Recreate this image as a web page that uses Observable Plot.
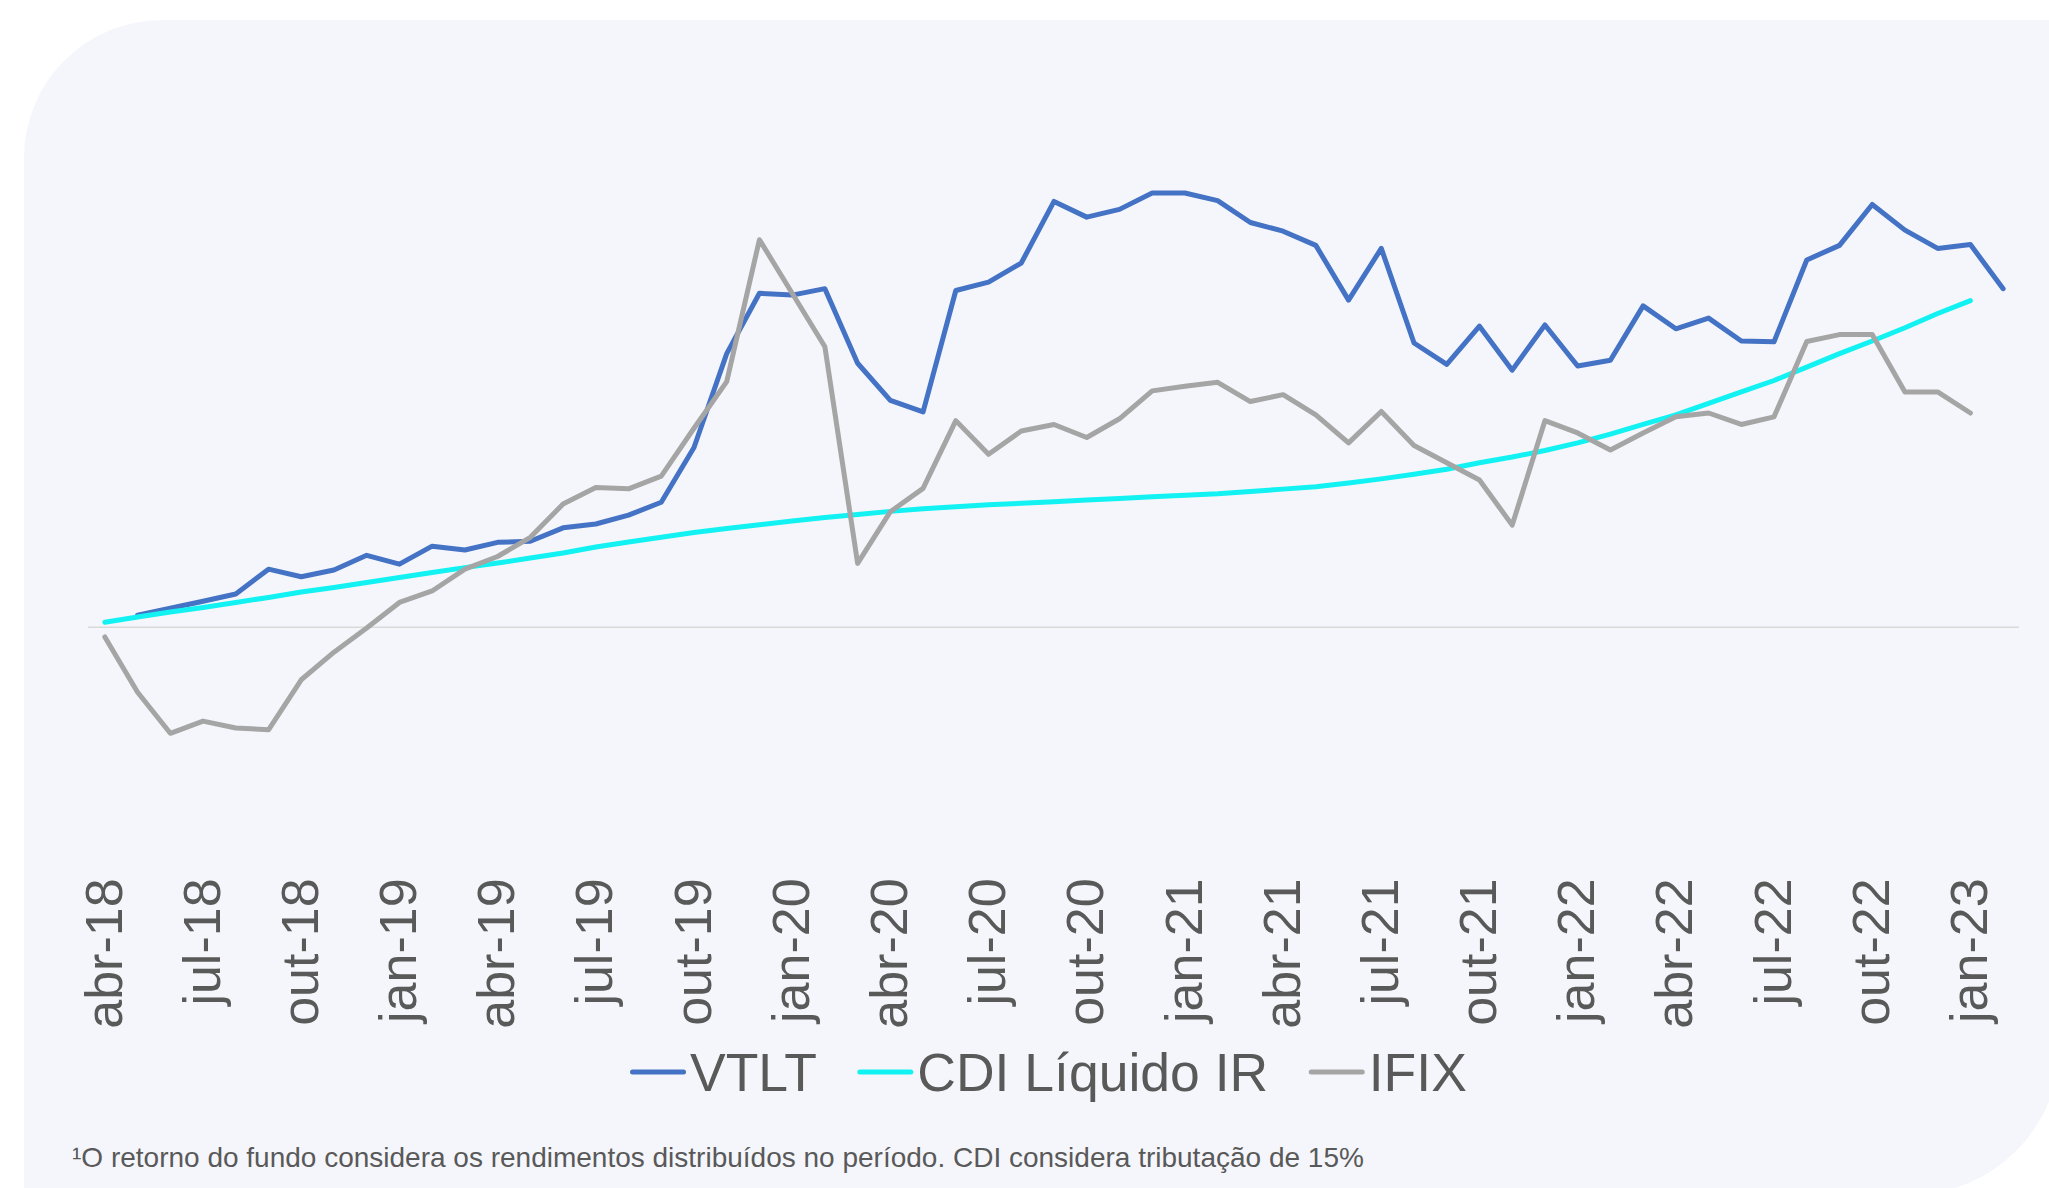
<!DOCTYPE html>
<html><head><meta charset="utf-8">
<script src="https://cdn.jsdelivr.net/npm/d3@7"></script>
<script src="https://cdn.jsdelivr.net/npm/@observablehq/plot@0.6"></script>
<style>
html,body{margin:0;padding:0;background:#ffffff;width:2049px;height:1188px;overflow:hidden;position:relative;}
#card{position:absolute;left:24px;top:20px;width:2036px;height:1175px;background:#f5f6fb;border-radius:138px 0 150px 0;}
#chart{position:absolute;left:0;top:0;}
#overlay{position:absolute;left:0;top:0;}
</style></head><body>
<div id="card"></div>
<div id="chart"></div>
<svg id="overlay" width="2049" height="1188"></svg>
<script>
const months = [
  "abr-18","mai-18","jun-18","jul-18","ago-18","set-18","out-18","nov-18","dez-18",
  "jan-19","fev-19","mar-19","abr-19","mai-19","jun-19","jul-19","ago-19","set-19","out-19","nov-19","dez-19",
  "jan-20","fev-20","mar-20","abr-20","mai-20","jun-20","jul-20","ago-20","set-20","out-20","nov-20","dez-20",
  "jan-21","fev-21","mar-21","abr-21","mai-21","jun-21","jul-21","ago-21","set-21","out-21","nov-21","dez-21",
  "jan-22","fev-22","mar-22","abr-22","mai-22","jun-22","jul-22","ago-22","set-22","out-22","nov-22","dez-22",
  "jan-23","fev-23"
];
const tickLabels = ["abr-18","jul-18","out-18","jan-19","abr-19","jul-19","out-19","jan-20","abr-20","jul-20",
  "out-20","jan-21","abr-21","jul-21","out-21","jan-22","abr-22","jul-22","out-22","jan-23"];

const vtlt = [null, 1.12, 1.75, 2.39, 3.05, 5.33, 4.63, 5.26, 6.60, 5.79, 7.44, 7.09, 7.79, 7.89, 9.12, 9.47,
  10.28, 11.47, 16.49, 25.09, 30.63, 30.46, 31.05, 24.21, 20.81, 19.75, 30.88, 31.65, 33.40, 39.05, 37.61,
  38.32, 39.82, 39.82, 39.12, 37.12, 36.32, 35.02, 30.00, 34.74, 26.07, 24.11, 27.61, 23.58, 27.72, 23.96,
  24.49, 29.47, 27.37, 28.35, 26.25, 26.18, 33.68, 35.02, 38.77, 36.42, 34.74, 35.09, 31.05];
const cdi = [0.46, 0.95, 1.40, 1.82, 2.28, 2.74, 3.23, 3.65, 4.11, 4.56, 5.02, 5.47, 5.89, 6.35, 6.81, 7.37,
  7.82, 8.25, 8.70, 9.05, 9.40, 9.75, 10.07, 10.35, 10.63, 10.88, 11.05, 11.23, 11.37, 11.51, 11.68, 11.82,
  11.96, 12.11, 12.25, 12.46, 12.67, 12.88, 13.23, 13.61, 14.04, 14.49, 15.09, 15.61, 16.21, 16.91, 17.72,
  18.60, 19.47, 20.53, 21.58, 22.63, 23.86, 25.09, 26.25, 27.47, 28.77, 29.96];
const ifix = [-0.88, -5.96, -9.72, -8.60, -9.23, -9.40, -4.81, -2.28, -0.07, 2.28, 3.33, 5.33, 6.49, 8.25,
  11.30, 12.81, 12.70, 13.86, 18.25, 22.53, 35.54, 30.63, 25.72, 5.86, 10.60, 12.74, 18.95, 15.86, 18.00,
  18.60, 17.40, 19.12, 21.68, 22.11, 22.46, 20.70, 21.33, 19.47, 16.91, 19.79, 16.67, 15.09, 13.51, 9.37,
  18.95, 17.82, 16.25, 17.82, 19.30, 19.65, 18.60, 19.30, 26.21, 26.84, 26.84, 21.58, 21.58, 19.65];

const seriesNames = ["VTLT", "CDI Líquido IR", "IFIX"];
const seriesColors = ["#4472C4", "#12F2F2", "#A5A5A5"];
const seriesValues = [vtlt, cdi, ifix];

const rows = [];
seriesNames.forEach((name, s) => {
  months.forEach((m, i) => {
    const v = seriesValues[s][i];
    if (v != null) rows.push({month: m, series: name, value: v});
  });
});

const font = "'Liberation Sans', Arial, sans-serif";
const textColor = "#595959";

const chart = Plot.plot({
  width: 2049,
  height: 1040,
  marginLeft: 88,
  marginRight: 30,
  marginTop: 190.56,
  marginBottom: 195.08,
  style: {background: "transparent", fontFamily: font, overflow: "visible"},
  x: {type: "point", domain: months, padding: 0.5, align: 0.5, axis: null, label: null},
  y: {domain: [-20, 40], axis: null},
  color: {domain: seriesNames, range: seriesColors},
  marks: [
    Plot.ruleY([0], {stroke: "#d9d9d9", strokeWidth: 1.5}),
    Plot.line(rows, {x: "month", y: "value", z: "series", stroke: "series",
      strokeWidth: 5, strokeLinecap: "round", strokeLinejoin: "round"}),
    Plot.axisX(tickLabels, {tickSize: 0, tickPadding: 33, tickRotate: -90, fontSize: 52,
      color: textColor, textAnchor: "end", lineAnchor: "middle", label: null})
  ]
});
document.getElementById("chart").appendChild(chart);

// legend and footnote
const overlay = d3.select("#overlay").style("font-family", font);
let lx = 630;
const legendY = 1072;
seriesNames.forEach((name, s) => {
  overlay.append("line")
    .attr("x1", lx + 2.5).attr("x2", lx + 53.5)
    .attr("y1", legendY).attr("y2", legendY)
    .attr("stroke", seriesColors[s]).attr("stroke-width", 5).attr("stroke-linecap", "round");
  const t = overlay.append("text")
    .attr("x", lx + 60).attr("y", 1091)
    .attr("font-size", 53.5).attr("fill", textColor)
    .text(name);
  lx = lx + 60 + t.node().getComputedTextLength() + 40.5;
});
overlay.append("text")
  .attr("x", 72).attr("y", 1167)
  .attr("font-size", 28).attr("fill", textColor)
  .text("¹O retorno do fundo considera os rendimentos distribuídos no período. CDI considera tributação de 15%");
</script>
</body></html>
